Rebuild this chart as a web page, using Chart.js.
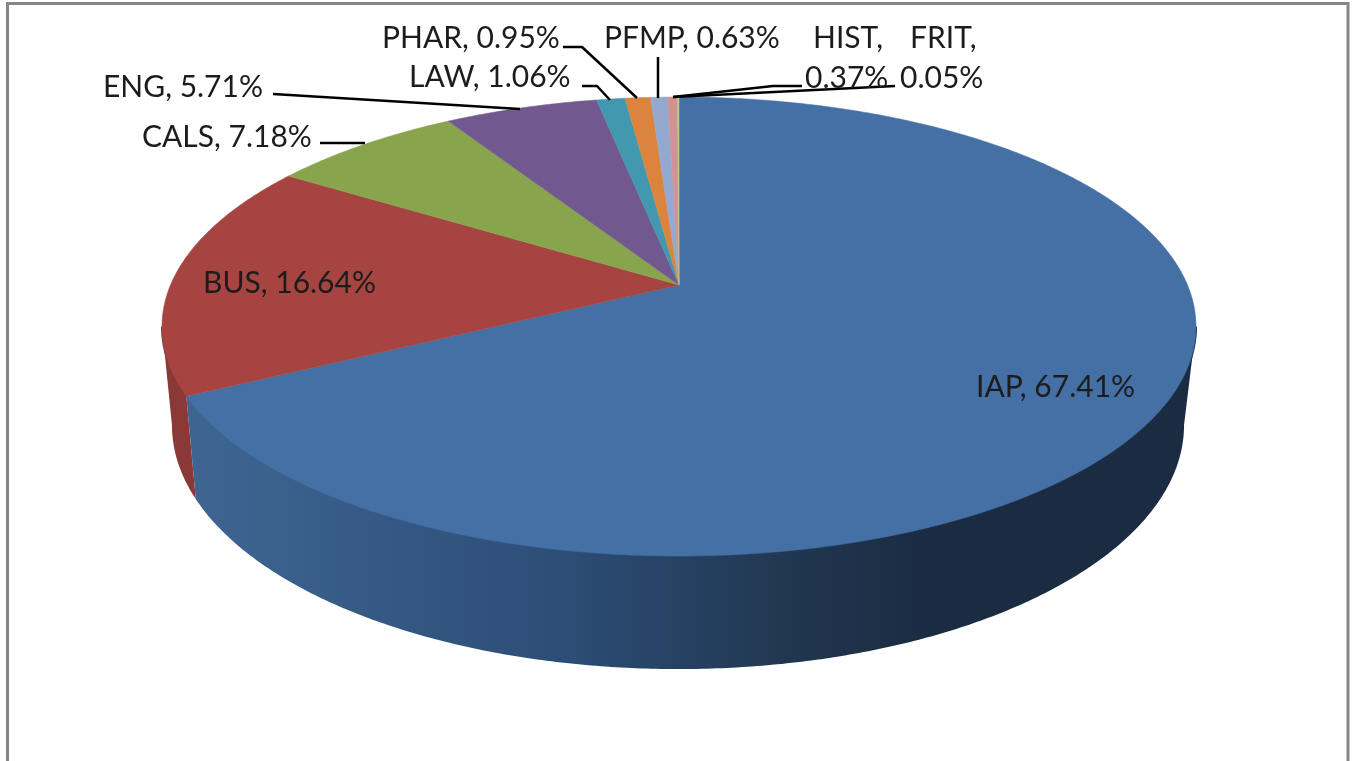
<!DOCTYPE html>
<html>
<head>
<meta charset="utf-8">
<title>Pie</title>
<script src="https://cdn.jsdelivr.net/npm/chart.js@4"></script>
<style>
	html, body { margin: 0; padding: 0; background: #fff; overflow: hidden; }
	canvas { display: block; }
</style>
</head>
<body>
<canvas id="chart" width="1353" height="761"></canvas>
<script>
const categories = ["IAP", "BUS", "CALS", "ENG", "LAW", "PHAR", "PFMP", "HIST", "FRIT"];
const shares = [67.41, 16.64, 7.18, 5.71, 1.06, 0.95, 0.63, 0.37, 0.05];
const sliceColors = ["#4470a5", "#a64441", "#88a44d", "#71588f", "#4198af", "#db843d", "#93a9cf", "#d19392", "#b9cd96"];

// perspective of the tilted disc: k is the foreshortening, the rest is in pixels
const k = 0.1808;
const topRim = { x: 679, y: 285, rx: 508.5, ry: 222 };
const bottomRim = { x: 678, y: 381, rx: 497.7, ry: 236 };

// label anchors, one entry per category; wrapped labels have two lines
const labelBoxes = [
	[[976, 387]],
	[[203, 283]],
	[[142, 137]],
	[[103, 87]],
	[[409, 77]],
	[[382, 38]],
	[[604, 38]],
	[[813, 38], [805, 78]],
	[[910, 38], [900, 78]]
];
// leader lines, null where the label sits on its slice
const leaders = [
	null,
	null,
	[[320, 143], [365, 143]],
	[[273, 94], [520, 109]],
	[[582, 86], [597, 86], [610, 100]],
	[[563, 47], [582, 47], [637, 98]],
	[[658, 57], [658, 98]],
	[[802, 86], [773, 86], [673, 97]],
	[[895, 86], [673, 97]]
];

function project(rim, angle) {
	const u = Math.cos(angle);
	const v = Math.sin(angle);
	const w = 1 - k * v;
	return [rim.x + rim.rx * u / w, rim.y + rim.ry * v / w];
}

function shade(hex, f) {
	const n = parseInt(hex.slice(1), 16);
	const c = [n >> 16, (n >> 8) & 255, n & 255].map(function (p) {
		return Math.round(p * f);
	});
	return `rgb(${c[0]},${c[1]},${c[2]})`;
}

// only the front of the wall shows, between the two widest points of the rim
function drawSide(ctx, arc, style) {
	const limit = Math.asin(k);
	const from = Math.max(arc.startAngle, limit);
	const to = Math.min(arc.endAngle, Math.PI - limit);
	if (to <= from) return;
	const steps = Math.max(2, Math.ceil((to - from) * 120));
	ctx.fillStyle = style;
	ctx.strokeStyle = style;
	ctx.lineWidth = 2;
	ctx.beginPath();
	for (let s = 0; s <= steps; s++) {
		const p = project(topRim, from + (to - from) * s / steps);
		if (s === 0) ctx.moveTo(p[0], p[1]);
		else ctx.lineTo(p[0], p[1]);
	}
	// goes under the top face, so no white seam shows along the rim
	ctx.stroke();
	for (let s = steps; s >= 0; s--) {
		const p = project(bottomRim, from + (to - from) * s / steps);
		ctx.lineTo(p[0], p[1]);
	}
	ctx.closePath();
	ctx.fill();
}

function drawTop(ctx, arc, color) {
	const steps = Math.max(2, Math.ceil((arc.endAngle - arc.startAngle) * 120));
	ctx.fillStyle = color;
	ctx.strokeStyle = color;
	ctx.lineWidth = 0.5;
	ctx.beginPath();
	ctx.moveTo(topRim.x, topRim.y);
	for (let s = 0; s <= steps; s++) {
		const p = project(topRim, arc.startAngle + (arc.endAngle - arc.startAngle) * s / steps);
		ctx.lineTo(p[0], p[1]);
	}
	ctx.closePath();
	ctx.fill();
	ctx.stroke();
}

// replaces the flat circle of the pie with the tilted disc, using the arcs Chart.js computed
const tiltedPie = {
	id: "tiltedPie",
	beforeDraw(chart) {
		const ctx = chart.ctx;
		ctx.save();
		ctx.fillStyle = "#fff";
		ctx.fillRect(0, 0, chart.width, chart.height);
		ctx.strokeStyle = "#868686";
		ctx.lineWidth = 3;
		ctx.strokeRect(7.5, 3.5, 1340.5, 800);
		ctx.restore();
	},
	beforeDatasetDraw(chart, args) {
		const ctx = chart.ctx;
		const arcs = chart.getDatasetMeta(args.index).data;
		const sideBlue = ctx.createLinearGradient(197, 0, 930, 0);
		sideBlue.addColorStop(0, "#3e6592");
		sideBlue.addColorStop(0.5, "#2c4d76");
		sideBlue.addColorStop(0.82, "#20364f");
		sideBlue.addColorStop(1, "#1a2b42");
		ctx.save();
		for (let i = arcs.length - 1; i >= 0; i--) {
			drawSide(ctx, arcs[i], i === 0 ? sideBlue : shade(sliceColors[i], 0.84));
		}
		arcs.forEach(function (arc, i) {
			drawTop(ctx, arc, sliceColors[i]);
		});
		ctx.restore();
		return false;
	},
	afterDatasetsDraw(chart) {
		const ctx = chart.ctx;
		ctx.save();
		ctx.strokeStyle = "#000";
		ctx.lineWidth = 2.5;
		ctx.lineJoin = "round";
		leaders.forEach(function (line) {
			if (!line) return;
			ctx.beginPath();
			line.forEach(function (p, j) {
				if (j === 0) ctx.moveTo(p[0], p[1]);
				else ctx.lineTo(p[0], p[1]);
			});
			ctx.stroke();
		});
		ctx.font = "30px Lato";
		ctx.fillStyle = "#1c1c1c";
		ctx.textBaseline = "middle";
		ctx.textAlign = "left";
		categories.forEach(function (name, i) {
			const value = shares[i].toFixed(2) + "%";
			const box = labelBoxes[i];
			if (box.length === 1) {
				ctx.fillText(`${name}, ${value}`, box[0][0], box[0][1]);
			} else {
				ctx.fillText(`${name},`, box[0][0], box[0][1]);
				ctx.fillText(value, box[1][0], box[1][1]);
			}
		});
		ctx.restore();
	}
};

new Chart(document.getElementById("chart"), {
	type: "pie",
	data: {
		labels: categories,
		datasets: [{ data: shares, backgroundColor: sliceColors, borderWidth: 0 }]
	},
	options: {
		responsive: false,
		animation: false,
		plugins: { legend: { display: false }, tooltip: { enabled: false } }
	},
	plugins: [tiltedPie]
});
</script>
</body>
</html>
